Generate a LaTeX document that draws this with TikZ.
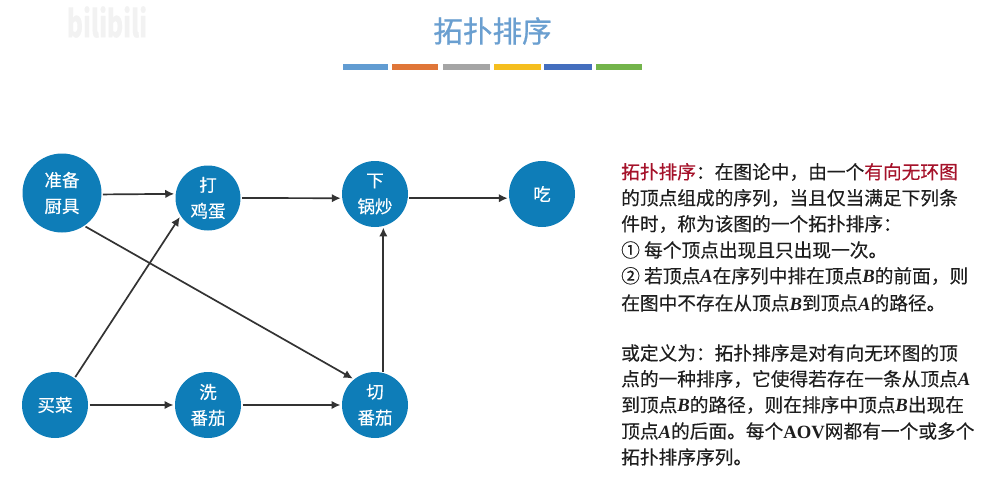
\documentclass[tikz,border=0pt]{standalone}
\usepackage{graphicx}
\usepackage{fontspec}
\setmainfont{Noto Sans CJK SC}[FakeBold=0.3]
\newfontfamily\titlefont{Noto Sans CJK SC}[FakeBold=0.8]
\newfontfamily\latinbi{Liberation Serif}[BoldItalicFont={Liberation Serif Bold Italic},BoldFont={Liberation Serif Bold}]
\usetikzlibrary{arrows.meta}
\definecolor{nodeblue}{HTML}{0E7DB8}
\definecolor{titleblue}{HTML}{6A9FD0}
\definecolor{darkred}{HTML}{A5122A}
\definecolor{textgray}{HTML}{1E1E1E}
\definecolor{wm}{HTML}{F2F2F2}
\definecolor{barA}{HTML}{619CD2}
\definecolor{barB}{HTML}{E07638}
\definecolor{barC}{HTML}{A5A5A5}
\definecolor{barD}{HTML}{F5BE1E}
\definecolor{barE}{HTML}{446EBE}
\definecolor{barF}{HTML}{73B44B}
\newcommand{\VA}{{\latinbi\bfseries\itshape A}}
\newcommand{\VB}{{\latinbi\bfseries\itshape B}}
\tikzset{
  vertex/.style={circle,fill=nodeblue,inner sep=0pt,minimum size=#1,outer sep=1.5pt,text=white,align=center,font=\fontsize{17.5}{26}\selectfont},
  edge/.style={draw=black!80,line width=1.7pt,-{Latex[length=9pt,width=8.5pt]}},
  body/.style={anchor=west,inner sep=0pt,text=textgray,font=\fontsize{18.7}{20}\selectfont},
  colbar/.style={inner sep=0pt,minimum height=5.5pt,anchor=west,fill=#1},
}
\begin{document}
\begin{tikzpicture}[x=1pt,y=-1pt]
\useasboundingbox (0,0) rectangle (993,501);
\node[text=wm,font=\fontsize{30}{32}\bfseries\selectfont,inner sep=0pt] (wmB) at (107,22) {\scalebox{0.82}[1.25]{bilibili}};
\node[text=titleblue,font=\titlefont\fontsize{29.6}{32}\selectfont,inner sep=0pt] (title) at (492.5,31) {拓扑排序};
\node[colbar=barA,minimum width=45pt] (b1) at (343,67) {};
\node[colbar=barB,minimum width=46pt] (b2) at (392,67) {};
\node[colbar=barC,minimum width=47pt] (b3) at (443,67) {};
\node[colbar=barD,minimum width=47pt] (b4) at (494,67) {};
\node[colbar=barE,minimum width=48pt] (b5) at (544,67) {};
\node[colbar=barF,minimum width=46pt] (b6) at (596,67) {};

\node[vertex=79pt] (zb) at (62,193) {准备\\厨具};
\node[vertex=65pt] (dj) at (208,198) {打\\鸡蛋};
\node[vertex=66pt] (xg) at (375,194) {下\\锅炒};
\node[vertex=66pt] (ch) at (542,194) {吃};
\node[vertex=66pt] (mc) at (55,405) {买菜};
\node[vertex=66pt] (xf) at (208,405) {洗\\番茄};
\node[vertex=66pt] (qf) at (375,405) {切\\番茄};

\draw[edge] (zb.358) -- (dj.173);
\draw[edge] (dj.0) -- (xg.187);
\draw[edge] (xg.-7) -- (ch.187);
\draw[edge] (zb.-55) -- (qf.130);
\draw[edge] (mc.54) -- (dj.-146);
\draw[edge] (mc.0) -- (xf.180);
\draw[edge] (xf.0) -- (qf.180);
\draw[edge] (qf.76) -- (xg.-76);

\node[body] (l1) at (621,172) {\textcolor{darkred}{拓扑排序}：在图论中，由一个\textcolor{darkred}{有向无环图}};
\node[body] (l2) at (621,198) {的顶点组成的序列，当且仅当满足下列条};
\node[body] (l3) at (621,224) {件时，称为该图的一个拓扑排序：};
\node[body] (l4) at (621,250) {① 每个顶点出现且只出现一次。};
\node[body] (l5) at (621,276) {② 若顶点\VA 在序列中排在顶点\VB 的前面，则};
\node[body] (l6) at (621,303) {在图中不存在从顶点\VB 到顶点\VA 的路径。};
\node[body] (l7) at (621,353) {或定义为：拓扑排序是对有向无环图的顶};
\node[body] (l8) at (621,379) {点的一种排序，它使得若存在一条从顶点\VA};
\node[body] (l9) at (621,405) {到顶点\VB 的路径，则在排序中顶点\VB 出现在};
\node[body] (l10) at (621,431) {顶点\VA 的后面。每个{\latinbi\bfseries AOV}网都有一个或多个};
\node[body] (l11) at (621,457) {拓扑排序序列。};
\end{tikzpicture}
\end{document}
